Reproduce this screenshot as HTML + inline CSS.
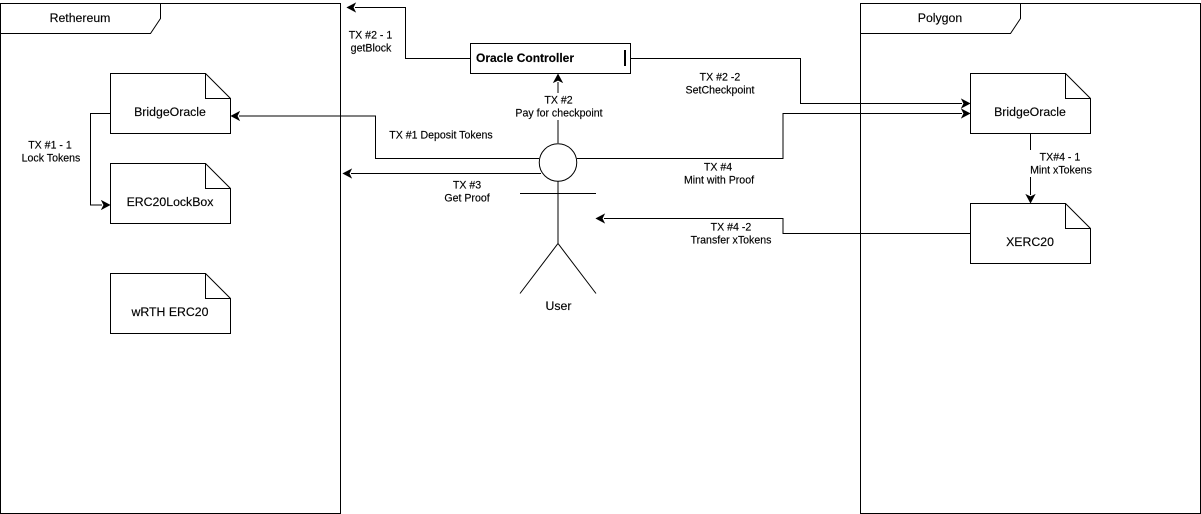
<!DOCTYPE html>
<html>
<head>
<meta charset="utf-8">
<style>
html,body{margin:0;padding:0;background:#fff;width:1201px;height:514px;overflow:hidden}
svg{display:block}
text{font-family:"Liberation Sans",Arial,sans-serif;fill:#000;stroke:#000;stroke-width:.15}
.n{font-size:12.3px;text-anchor:middle}
.l{font-size:10.6px;text-anchor:middle}
.s{fill:#fff;stroke:#000;stroke-width:1}
.c{fill:none;stroke:#000;stroke-width:1}
.a{fill:#000;stroke:#000;stroke-width:1}
</style>
</head>
<body>
<svg width="1201" height="514" viewBox="0 0 1201 514" xmlns="http://www.w3.org/2000/svg">
<rect width="1201" height="514" fill="#fff"/>

<!-- Frames -->
<path class="s" d="M0.5 3.5H340.5V513.5H0.5Z"/>
<path class="c" d="M0.5 33.5H150.5L160.5 18.5V3.5"/>
<text class="n" x="80" y="22">Rethereum</text>
<path class="s" d="M860.5 3.5H1200.5V513.5H860.5Z"/>
<path class="c" d="M860.5 33.5H1010.5L1020.5 18.5V3.5"/>
<text class="n" x="940" y="22">Polygon</text>

<!-- Connectors -->
<path class="c" d="M470 58.5H405.5V7.5H355"/>
<path class="a" d="M347.5 7.5L355 3.5L353 7.5L355 11.5Z"/>

<path class="c" d="M539 158.5H375.5V116H239"/>
<path class="a" d="M231.5 116L239 112L237 116L239 120Z"/>

<path class="c" d="M541 173.5H351"/>
<path class="a" d="M343.5 173.5L351 169.5L349 173.5L351 177.5Z"/>

<path class="c" d="M558 143V82"/>
<path class="a" d="M558 74.5L562 82L558 80L554 82Z"/>

<path class="c" d="M630 58.5H800.5V103.5H962"/>
<path class="a" d="M969.5 103.5L962 99.5L964 103.5L962 107.5Z"/>

<path class="c" d="M577 158.5H783V113.5H962"/>
<path class="a" d="M969.5 113.5L962 109.5L964 113.5L962 117.5Z"/>

<path class="c" d="M970 233.5H783V218.5H604"/>
<path class="a" d="M596.5 218.5L604 214.5L602 218.5L604 222.5Z"/>

<path class="c" d="M110 113.5H90.5V205H102"/>
<path class="a" d="M109.5 205L102 201L104 205L102 209Z"/>

<path class="c" d="M1030.5 133V195"/>
<path class="a" d="M1030.5 202.5L1026.5 195L1030.5 197L1034.5 195Z"/>

<!-- Documents -->
<path class="s" d="M110.5 73.5H205.5L230.5 98.5V133.5H110.5Z"/><path class="c" d="M205.5 73.5V98.5H230.5"/>
<text class="n" x="170" y="116">BridgeOracle</text>
<path class="s" d="M110.5 163.5H205.5L230.5 188.5V223.5H110.5Z"/><path class="c" d="M205.5 163.5V188.5H230.5"/>
<text class="n" x="170" y="206">ERC20LockBox</text>
<path class="s" d="M110.5 273.5H205.5L230.5 298.5V333.5H110.5Z"/><path class="c" d="M205.5 273.5V298.5H230.5"/>
<text class="n" x="170" y="316">wRTH ERC20</text>
<path class="s" d="M970.5 73.5H1065.5L1090.5 98.5V133.5H970.5Z"/><path class="c" d="M1065.5 73.5V98.5H1090.5"/>
<text class="n" x="1030" y="116">BridgeOracle</text>
<path class="s" d="M970.5 203.5H1065.5L1090.5 228.5V263.5H970.5Z"/><path class="c" d="M1065.5 203.5V228.5H1090.5"/>
<text class="n" x="1030" y="246">XERC20</text>

<!-- Oracle Controller -->
<rect class="s" x="470.5" y="43.5" width="160" height="30"/>
<text x="476" y="62" font-size="12" font-weight="bold">Oracle Controller</text>
<rect x="624" y="50" width="2" height="16" fill="#000"/>

<!-- Actor -->
<path class="c" d="M558 181V243"/>
<path class="c" d="M520 193.5H596"/>
<path class="c" d="M520 293.5L558 243.5L596 293.5"/>
<circle class="s" cx="558" cy="162.5" r="18.75"/>
<text class="n" x="558.5" y="310">User</text>

<!-- Labels -->
<rect x="512" y="93" width="94" height="27" fill="#fff"/>
<text class="l" x="558.5" y="103.5">TX #2</text>
<text class="l" x="559" y="116.5">Pay for checkpoint</text>
<rect x="1029" y="150" width="64" height="27" fill="#fff"/>
<text class="l" x="1060" y="160.5">TX#4 - 1</text>
<text class="l" x="1061" y="173.5">Mint xTokens</text>
<text class="l" x="50" y="148.5">TX #1 - 1</text>
<text class="l" x="51" y="161.5">Lock Tokens</text>
<text class="l" x="370.5" y="38.5">TX #2 - 1</text>
<text class="l" x="371" y="51.5">getBlock</text>
<text class="l" x="441" y="138.5">TX #1 Deposit Tokens</text>
<text class="l" x="467" y="188.5">TX #3</text>
<text class="l" x="467" y="201.5">Get Proof</text>
<text class="l" x="720" y="80.5">TX #2 -2</text>
<text class="l" x="720" y="93.5">SetCheckpoint</text>
<text class="l" x="718" y="170.5">TX #4</text>
<text class="l" x="719" y="183.5">Mint with Proof</text>
<text class="l" x="731" y="230.5">TX #4 -2</text>
<text class="l" x="731" y="243.5">Transfer xTokens</text>
</svg>
</body>
</html>
